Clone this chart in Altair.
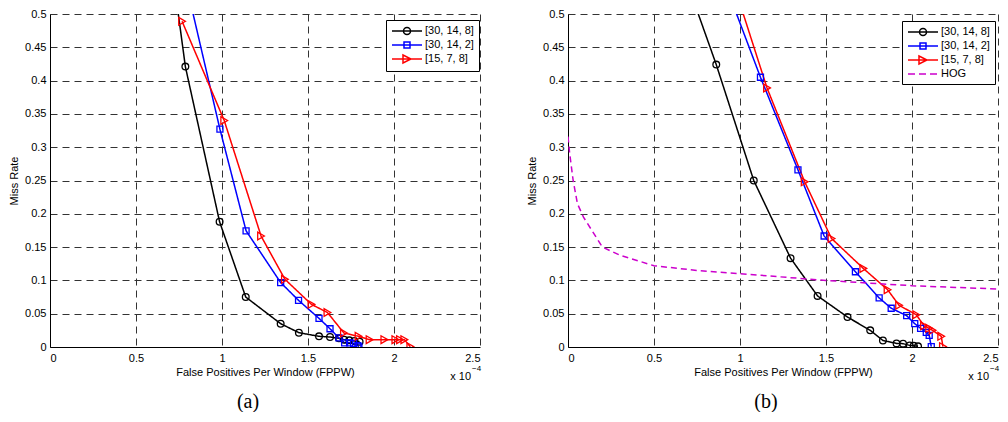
import altair as alt
import pandas as pd

# ---------------- data (FPPW in units of 1e-4) ----------------
names_a = ["[30, 14, 8]", "[30, 14, 2]", "[15, 7, 8]"]
names_b = ["[30, 14, 8]", "[30, 14, 2]", "[15, 7, 8]", "HOG"]

# panel (a)
a_black_x = [0.694, 0.787, 0.986, 1.138, 1.341, 1.447, 1.564, 1.628, 1.680, 1.710, 1.740, 1.770, 1.800]
a_black_y = [0.60, 0.421, 0.188, 0.075, 0.035, 0.0215, 0.016, 0.015, 0.013, 0.011, 0.010, 0.009, 0.008]
a_blue_x = [0.742, 0.988, 1.140, 1.341, 1.445, 1.564, 1.628, 1.680, 1.713, 1.742, 1.765, 1.790, 1.796]
a_blue_y = [0.60, 0.327, 0.1745, 0.0968, 0.070, 0.043, 0.0274, 0.0137, 0.0063, 0.0063, 0.0054, 0.0019, 0.0003]
a_red_x = [0.768, 1.013, 1.227, 1.366, 1.520, 1.613, 1.709, 1.794, 1.858, 1.944, 2.008, 2.035, 2.060, 2.095]
a_red_y = [0.489, 0.340, 0.1667, 0.1016, 0.064, 0.0518, 0.021, 0.016, 0.011, 0.011, 0.011, 0.011, 0.011, 0.0005]

# panel (b)
b_black_x = [0.62, 0.862, 1.080, 1.294, 1.451, 1.625, 1.757, 1.831, 1.910, 1.948, 1.987, 2.010, 2.035]
b_black_y = [0.60, 0.424, 0.250, 0.1334, 0.0767, 0.045, 0.025, 0.0098, 0.0054, 0.005, 0.0024, 0.002, 0.001]
b_blue_x = [0.834, 1.119, 1.337, 1.489, 1.671, 1.809, 1.879, 1.969, 2.016, 2.050, 2.083, 2.100, 2.112]
b_blue_y = [0.60, 0.405, 0.266, 0.1667, 0.113, 0.0738, 0.0582, 0.047, 0.035, 0.028, 0.022, 0.0176, 0.0005]
b_red_x = [0.895, 1.157, 1.376, 1.532, 1.717, 1.858, 1.925, 2.025, 2.070, 2.100, 2.120, 2.170, 2.180]
b_red_y = [0.60, 0.389, 0.248, 0.163, 0.118, 0.086, 0.0626, 0.0484, 0.0318, 0.028, 0.025, 0.016, 0.0005]
hog_x = [0.0, 0.01, 0.03, 0.055, 0.09, 0.2, 0.3, 0.5, 0.75, 1.0, 1.5, 2.0, 2.5]
hog_y = [0.316, 0.29, 0.25, 0.215, 0.195, 0.15, 0.138, 0.122, 0.115, 0.110, 0.100, 0.092, 0.087]

x_ticks = [0, 0.5, 1, 1.5, 2, 2.5]
y_ticks = [0, 0.05, 0.1, 0.15, 0.2, 0.25, 0.3, 0.35, 0.4, 0.45, 0.5]
x_title = "False Positives Per Window (FPPW)"
y_title = "Miss Rate"
exp_base = "x 10"
exp_power = "\u22124"
captions = ["(a)", "(b)"]

colors_all = ["#000000", "#0000ff", "#ff0000", "#cc00cc"]
shapes_all = ["circle", "square", "triangle-right", None]
sizes_all = [45, 36, 60, 0]
dashes_all = [[1, 0], [1, 0], [1, 0], [6, 4]]
# legend glyphs: line sample with marker (custom symbol paths)
legend_paths_all = [
    "M-1,0 L5,0 M2.7,0 C2.7,0.3866 2.3866,0.7 2,0.7 C1.6134,0.7 1.3,0.3866 1.3,0 C1.3,-0.3866 1.6134,-0.7 2,-0.7 C2.3866,-0.7 2.7,-0.3866 2.7,0 Z",
    "M-1,0 L5,0 M1.4,-0.6 L2.6,-0.6 L2.6,0.6 L1.4,0.6 Z",
    "M-1,0 L5,0 M1.2,-0.8 L2.8,0 L1.2,0.8 Z",
    "M-1,0 L0.4,0 M1.2,0 L2.6,0 M3.4,0 L4.8,0",
]

W, H = 430, 333
FONT = "Liberation Sans"


def long_df(series_list):
    rows = []
    for name, xs, ys in series_list:
        for i, (xv, yv) in enumerate(zip(xs, ys)):
            rows.append({"series": name, "x": xv, "y": yv, "idx": i})
    return pd.DataFrame(rows)


def panel(series_list, names, caption, leg_x, leg_y):
    n = len(names)
    df = long_df(series_list)

    def xenc():
        return alt.X("x:Q", scale=alt.Scale(domain=[0, 2.5], nice=False),
                     axis=alt.Axis(values=x_ticks, format="~g", title=x_title,
                                   labelPadding=5, titlePadding=3, labelOverlap=False))

    def yenc():
        return alt.Y("y:Q", scale=alt.Scale(domain=[0, 0.5], nice=False),
                     axis=alt.Axis(values=y_ticks, format="~g", title=y_title,
                                   labelPadding=4, titlePadding=5, labelOverlap=False))

    layers = []
    for k in range(n):
        ln = alt.Chart(df).transform_filter(alt.datum.series == names[k]).mark_line(
            clip=True, strokeWidth=1.5, color=colors_all[k], strokeDash=dashes_all[k]
        ).encode(x=xenc(), y=yenc(), order="idx:Q")
        layers.append(ln)
    for k in range(n):
        if shapes_all[k] is None:
            continue
        pts = alt.Chart(df).transform_filter(alt.datum.series == names[k]).mark_point(
            shape=shapes_all[k], filled=False, size=sizes_all[k], color=colors_all[k],
            strokeWidth=1.3, opacity=1, clip=True
        ).encode(x=xenc(), y=yenc())
        layers.append(pts)

    leg = alt.Legend(orient="none", legendX=leg_x, legendY=leg_y, title=None,
                     strokeColor="black", fillColor="white", padding=5,
                     symbolSize=100, symbolStrokeWidth=1.5, labelOffset=22,
                     labelFont=FONT, labelFontSize=11, labelColor="black",
                     rowPadding=1, cornerRadius=0)
    ghost = alt.Chart(pd.DataFrame({"series": names})).mark_point(
        filled=False, opacity=1, clip=True
    ).encode(
        x=alt.value(-200), y=alt.value(-200),
        color=alt.Color("series:N", scale=alt.Scale(domain=names, range=colors_all[:n]), legend=leg),
        shape=alt.Shape("series:N", scale=alt.Scale(domain=names, range=legend_paths_all[:n]), legend=leg),
    )
    layers.append(ghost)

    t1 = alt.Chart(pd.DataFrame({"t": [exp_base]})).mark_text(
        align="right", baseline="middle", font=FONT, fontSize=11, color="black"
    ).encode(text="t:N", x=alt.value(W - 9), y=alt.value(H + 30))
    t2 = alt.Chart(pd.DataFrame({"t": [exp_power]})).mark_text(
        align="left", baseline="middle", font=FONT, fontSize=8, color="black"
    ).encode(text="t:N", x=alt.value(W - 8), y=alt.value(H + 22))
    cap = alt.Chart(pd.DataFrame({"t": [caption]})).mark_text(
        align="center", baseline="middle", font="Liberation Serif", fontSize=20, color="black"
    ).encode(text="t:N", x=alt.value(W / 2 - 17), y=alt.value(H + 55))
    layers += [t1, t2, cap]

    return alt.layer(*layers).properties(width=W, height=H)


pa = panel([(names_a[0], a_black_x, a_black_y),
            (names_a[1], a_blue_x, a_blue_y),
            (names_a[2], a_red_x, a_red_y)], names_a, captions[0], 336, 6)
pb = panel([(names_b[0], b_black_x, b_black_y),
            (names_b[1], b_blue_x, b_blue_y),
            (names_b[2], b_red_x, b_red_y),
            (names_b[3], hog_x, hog_y)], names_b, captions[1], 334, 7)

chart = alt.hconcat(pa, pb, spacing=44).resolve_scale(
    color="independent", shape="independent"
).resolve_legend(
    color="independent", shape="independent"
).properties(
    padding={"left": 0, "top": 0, "right": 0, "bottom": 0}
).configure_view(strokeOpacity=0).configure_axis(
    labelFont=FONT, labelFontSize=11, labelColor="black",
    titleFont=FONT, titleFontSize=11, titleFontWeight="normal", titleColor="black",
    ticks=False, tickSize=0, domainColor="black", domainWidth=1,
    grid=True, gridDash=[7, 5], gridColor="#333333", gridOpacity=1, gridWidth=1,
)

chart.save("out.html", embed_options={"renderer": "svg", "actions": False})
